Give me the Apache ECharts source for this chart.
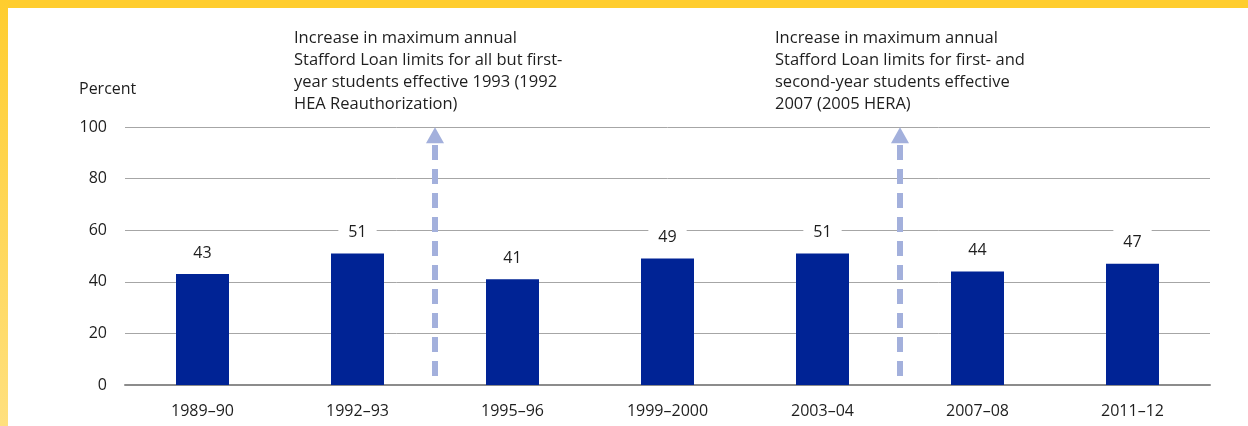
<!DOCTYPE html>
<html>
<head>
<meta charset="utf-8">
<script src="https://cdn.jsdelivr.net/npm/echarts@6/dist/echarts.min.js"></script>
<style>
  html, body { margin: 0; padding: 0; background: #fff; }
  #chart { width: 1248px; height: 426px; }
</style>
</head>
<body>
<div id="chart"></div>
<script>
// Academic years and the percentage shown for each
const years = ['1989–90', '1992–93', '1995–96', '1999–2000', '2003–04', '2007–08', '2011–12'];
const percents = [43, 51, 41, 49, 51, 44, 47];

// Y-axis ticks
const yTicks = { min: 0, max: 100, step: 20 };

// Policy changes: position between categories (index units) and their notes
const policyPositions = [1.5, 4.5];
const policyNotes = [
  'Increase in maximum annual\nStafford Loan limits for all but first-\nyear students effective 1993 (1992\nHEA Reauthorization)',
  'Increase in maximum annual\nStafford Loan limits for first- and\nsecond-year students effective\n2007 (2005 HERA)'
];
// Arrow shaft runs from a little above zero up to the top of the scale
const arrowFrom = 3.5;
const arrowTo = 96.8;

const FONT = '"Open Sans", "Noto Sans", sans-serif';
const TEXT = '#1e1e1e';

const chart = echarts.init(document.getElementById('chart'), null, { renderer: 'canvas' });

const noteX = [294, 775];

chart.setOption({
  animation: false,
  backgroundColor: '#ffffff',
  textStyle: { fontFamily: FONT, color: TEXT },
  title: {
    text: 'Percent',
    left: 79,
    top: 81,
    padding: 0,
    textStyle: { fontFamily: FONT, fontSize: 16, fontWeight: 'normal', color: TEXT }
  },
  grid: { left: 125, right: 38, top: 127, bottom: 41 },
  xAxis: [
    {
      type: 'category',
      data: years,
      axisTick: { show: false },
      axisLine: { lineStyle: { color: '#8c8c8c', width: 2 } },
      axisLabel: { fontFamily: FONT, fontSize: 16, color: TEXT, margin: 18 }
    },
    {
      type: 'value',
      min: -0.5,
      max: years.length - 0.5,
      show: false
    }
  ],
  yAxis: {
    type: 'value',
    min: yTicks.min,
    max: yTicks.max,
    interval: yTicks.step,
    axisLine: { show: false },
    axisTick: { show: false },
    axisLabel: { fontFamily: FONT, fontSize: 16, color: TEXT, margin: 18 },
    splitLine: { lineStyle: { color: '#a6a6a6', width: 1 } }
  },
  series: [
    {
      type: 'bar',
      data: percents,
      barWidth: 53,
      itemStyle: { color: '#002395' },
      label: {
        show: true,
        position: 'top',
        distance: 7,
        fontFamily: FONT,
        fontSize: 16,
        color: TEXT,
        lineHeight: 20,
        backgroundColor: '#ffffff',
        padding: [4, 10]
      },
      z: 3
    },
    {
      type: 'line',
      xAxisIndex: 1,
      data: [],
      silent: true,
      markLine: {
        silent: true,
        animation: false,
        symbol: ['none', 'triangle'],
        symbolSize: [18, 16],
        label: { show: false },
        lineStyle: { color: '#a3b0dc', width: 6, type: [15, 9], cap: 'butt', opacity: 1 },
        data: policyPositions.map(p => [
          { coord: [p, arrowFrom] },
          { coord: [p, arrowTo] }
        ])
      },
      z: 4
    }
  ],
  graphic: [
    {
      type: 'rect',
      left: 0, top: 0,
      shape: { width: 1248, height: 8 },
      style: { fill: '#ffcd2e' },
      z: 10
    },
    {
      type: 'rect',
      left: 0, top: 0,
      shape: { width: 8, height: 426 },
      style: {
        fill: new echarts.graphic.LinearGradient(0, 0, 0, 1, [
          { offset: 0, color: '#ffcd2e' },
          { offset: 1, color: '#ffe07e' }
        ])
      },
      z: 10
    }
  ].concat(policyNotes.map((t, i) => ({
    type: 'text',
    left: noteX[i],
    top: 27,
    style: {
      text: t,
      font: '16.5px ' + FONT,
      fill: TEXT,
      lineHeight: 22
    },
    z: 10
  })))
});
</script>
</body>
</html>
